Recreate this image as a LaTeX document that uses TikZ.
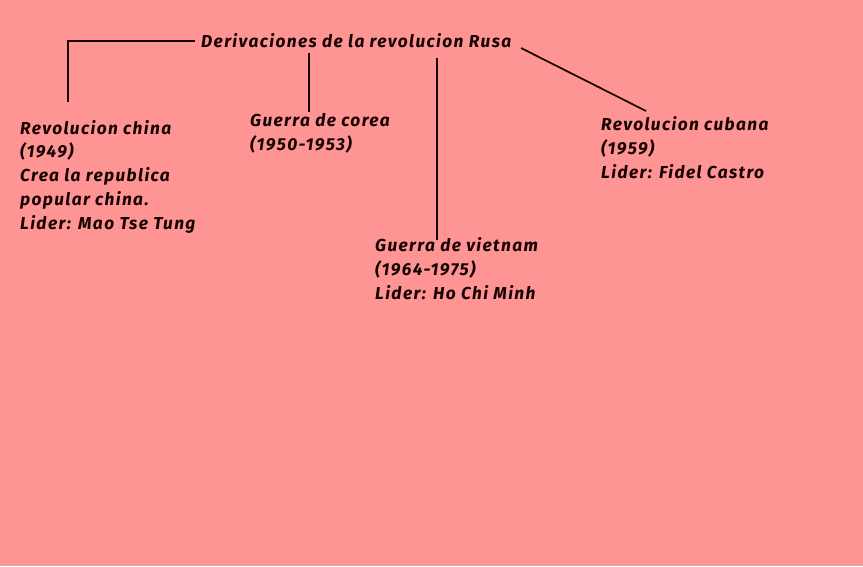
\documentclass[tikz,border=0pt]{standalone}
\usepackage{fontspec}
\setmainfont{Fira Sans}[LetterSpace=8]
\definecolor{bgpink}{RGB}{255,148,148}
\definecolor{ink}{RGB}{20,0,0}
\begin{document}
\begin{tikzpicture}[x=1pt,y=-1pt,
  lbl/.style={anchor=base west,inner sep=0pt,align=left,text=ink,
    font=\fontsize{17.3}{23.7}\selectfont\bfseries\itshape},
  link/.style={draw=ink,line width=1.7pt}]
\fill[bgpink] (0,0) rectangle (863,566);
\useasboundingbox (0,0) rectangle (863,566);
% base anchor = baseline of the last line
\node[lbl] (title) at (201,47) {Derivaciones de la revolucion Rusa};
\node[lbl] (china) at (20,229) {Revolucion china\\(1949)\\Crea la republica\\popular china.\\Lider: Mao Tse Tung};
\node[lbl] (corea) at (250,150.5) {Guerra de corea\\(1950-1953)};
\node[lbl] (vietnam) at (375,299) {Guerra de vietnam\\(1964-1975)\\Lider: Ho Chi Minh};
\node[lbl] (cuba) at (601,178) {Revolucion cubana\\(1959)\\Lider: Fidel Castro};
\coordinate (tl) at (195,41);
\coordinate (chinaend) at (68,102);
\coordinate (coreatop) at (309,53);
\coordinate (coreaend) at (309,112);
\coordinate (vtop) at (437,58);
\coordinate (vend) at (437,240);
\coordinate (ctop) at (521,48);
\coordinate (cend) at (646,111);
\draw[link] (tl) -| (chinaend);
\draw[link] (coreatop) -- (coreaend);
\draw[link] (vtop) -- (vend);
\draw[link] (ctop) -- (cend);
\end{tikzpicture}
\end{document}
